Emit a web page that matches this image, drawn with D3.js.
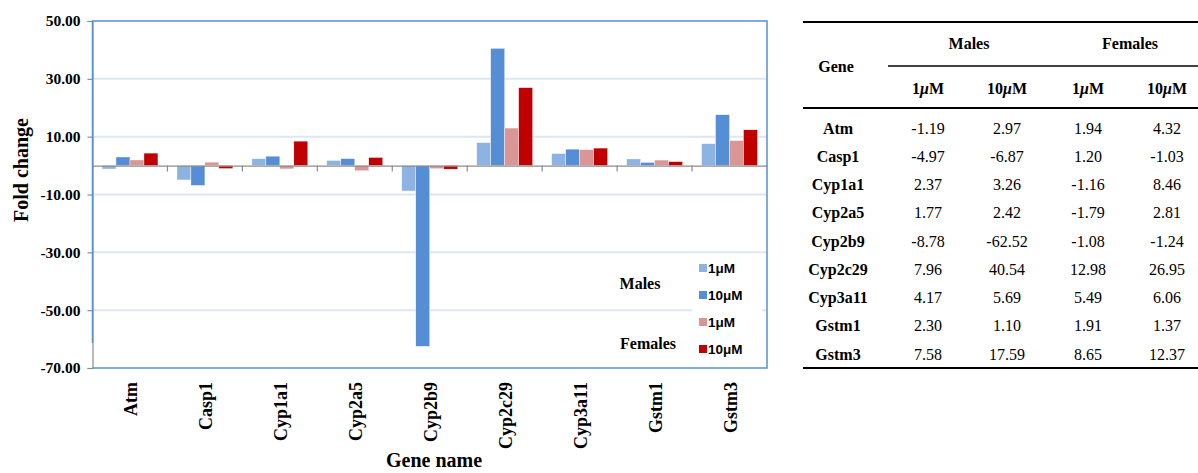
<!DOCTYPE html>
<html><head><meta charset="utf-8">
<script src="https://cdn.jsdelivr.net/npm/d3@7"></script>
<style>
body{margin:0;background:#fff;}
svg{display:block;}
</style></head>
<body>
<svg id="c" width="1198" height="473"></svg>
<script>
const genes = ["Atm","Casp1","Cyp1a1","Cyp2a5","Cyp2b9","Cyp2c29","Cyp3a11","Gstm1","Gstm3"];
const males1 = [-1.19,-4.97,2.37,1.77,-8.78,7.96,4.17,2.30,7.58];
const males10 = [2.97,-6.87,3.26,2.42,-62.52,40.54,5.69,1.10,17.59];
const females1 = [1.94,1.20,-1.16,-1.79,-1.08,12.98,5.49,1.91,8.65];
const females10 = [4.32,-1.03,8.46,2.81,-1.24,26.95,6.06,1.37,12.37];
const yTicks = [50,30,10,-10,-30,-50,-70];
const seriesKeys = ["m1","m10","f1","f10"];
const seriesColors = ["#8db3e2","#558ed5","#d99694","#c00000"];
const seriesLabels = ["1μM","10μM","1μM","10μM"];
const seriesArrays = [males1, males10, females1, females10];

const svg = d3.select("#c");
const serif = "'Liberation Serif','Times New Roman',serif";
const sans = "'Liberation Sans',Arial,sans-serif";

const L = 92.5, R = 767, T = 21, B = 368;
const y = d3.scaleLinear().domain([-70,50]).range([B,T]);
const x0 = d3.scaleBand().domain(genes).range([L,R]).padding(0);
const x1 = d3.scaleBand().domain(seriesKeys).range([0,x0.bandwidth()]).paddingInner(0).paddingOuter(0.68);

// gridlines
svg.append("g").selectAll("line").data(yTicks.filter(d=>d!==50 && d!==-70)).join("line")
  .attr("x1",L).attr("x2",R).attr("y1",d=>y(d)).attr("y2",d=>y(d))
  .attr("stroke","#dde7f4").attr("stroke-width",2);

// legend white box
svg.append("rect").attr("x",692).attr("y",256).attr("width",70).attr("height",110).attr("fill","#fff");

// bars
const bars = svg.append("g");
genes.forEach((g,i)=>{
  seriesKeys.forEach((k,j)=>{
    const v = seriesArrays[j][i];
    bars.append("rect")
      .attr("x", x0(g)+x1(k))
      .attr("width", x1.bandwidth())
      .attr("y", y(Math.max(0,v)))
      .attr("height", Math.abs(y(v)-y(0)))
      .attr("fill", seriesColors[j])
      .attr("stroke","#fff").attr("stroke-width",0.4);
  });
});

// zero axis with category ticks
const xa = svg.append("g").attr("transform",`translate(0,${y(0)})`)
  .call(d3.axisBottom(x0).tickSize(0).tickFormat(""));
xa.select(".domain").attr("stroke","#8c8c8c").attr("stroke-width",1.2);
svg.append("g").selectAll("line").data(genes.slice(1)).join("line")
  .attr("x1",d=>x0(d)).attr("x2",d=>x0(d)).attr("y1",y(0)).attr("y2",y(0)+6)
  .attr("stroke","#8c8c8c").attr("stroke-width",1.2);

// y axis
const ya = svg.append("g").attr("transform",`translate(${L},0)`)
  .call(d3.axisLeft(y).tickValues(yTicks).tickSize(5).tickPadding(7).tickFormat(d=>d.toFixed(2)));
ya.select(".domain").attr("stroke","#8c8c8c").attr("stroke-width",1.2);
ya.selectAll(".tick line").attr("stroke","#8c8c8c").attr("stroke-width",1.2);
ya.selectAll(".tick text").attr("font-family",serif).attr("font-weight","bold").attr("font-size","15.5px").attr("fill","#000");

// frame
svg.append("path")
  .attr("d",`M${L},343 L${L},${T} L${R},${T} L${R},${B} L${L},${B}`)
  .attr("fill","none").attr("stroke","#5b8fd3").attr("stroke-width",1.5);

// x labels
svg.append("g").selectAll("text").data(genes).join("text")
  .attr("transform",d=>`translate(${x0(d)+x0.bandwidth()/2+7},382) rotate(-90)`)
  .attr("text-anchor","end")
  .attr("font-family",serif).attr("font-weight","bold").attr("font-size","18px")
  .text(d=>d);

// axis titles
svg.append("text").attr("x",434).attr("y",467).attr("text-anchor","middle")
  .attr("font-family",serif).attr("font-weight","bold").attr("font-size","20px").text("Gene name");
svg.append("text").attr("transform","translate(28,170) rotate(-90)").attr("text-anchor","middle")
  .attr("font-family",serif).attr("font-weight","bold").attr("font-size","20px").text("Fold change");

// legend
const lg = svg.append("g");
const legY = [268,295,322,349];
seriesKeys.forEach((k,j)=>{
  lg.append("rect").attr("x",699).attr("y",legY[j]-4).attr("width",8).attr("height",8).attr("fill",seriesColors[j]);
  lg.append("text").attr("x",708).attr("y",legY[j]+5).attr("font-family",sans).attr("font-weight","bold")
    .attr("font-size","13.5px").text(seriesLabels[j]);
});
lg.append("text").attr("x",640).attr("y",289).attr("text-anchor","middle").attr("font-family",serif)
  .attr("font-weight","bold").attr("font-size","16px").text("Males");
lg.append("text").attr("x",648).attr("y",349).attr("text-anchor","middle").attr("font-family",serif)
  .attr("font-weight","bold").attr("font-size","16px").text("Females");

// table
const tb = svg.append("g");
const TL = 803, TR = 1198;
const rule = (x1_,x2_,yy,w)=>tb.append("line").attr("x1",x1_).attr("x2",x2_).attr("y1",yy).attr("y2",yy).attr("stroke","#000").attr("stroke-width",w);
rule(TL,TR,22,2); rule(888,TR,66,1.6); rule(TL,TR,108,2); rule(TL,TR,368,2);
const colX = [838,928,1007,1088,1167];
const hdr = (xx,yy,t)=>tb.append("text").attr("x",xx).attr("y",yy).attr("text-anchor","middle")
  .attr("font-family",serif).attr("font-weight","bold").attr("font-size","16px").text(t);
hdr(836,72,"Gene"); hdr(969,49,"Males"); hdr(1130,49,"Females");
seriesLabels.forEach((s,j)=>{
  const t = tb.append("text").attr("x",colX[j+1]).attr("y",94).attr("text-anchor","middle")
    .attr("font-family",serif).attr("font-weight","bold").attr("font-size","16px");
  t.append("tspan").text(s.replace("μM",""));
  t.append("tspan").attr("font-style","italic").text("μ");
  t.append("tspan").text("M");
});
const rowY = d3.scaleLinear().domain([0,genes.length-1]).range([128,354]);
genes.forEach((g,i)=>{
  tb.append("text").attr("x",colX[0]).attr("y",rowY(i)+5.5).attr("text-anchor","middle")
    .attr("font-family",serif).attr("font-weight","bold").attr("font-size","16px").text(g);
  seriesArrays.forEach((arr,j)=>{
    tb.append("text").attr("x",colX[j+1]).attr("y",rowY(i)+5.5).attr("text-anchor","middle")
      .attr("font-family",serif).attr("font-size","16px").text(arr[i].toFixed(2));
  });
});
</script>
</body></html>
